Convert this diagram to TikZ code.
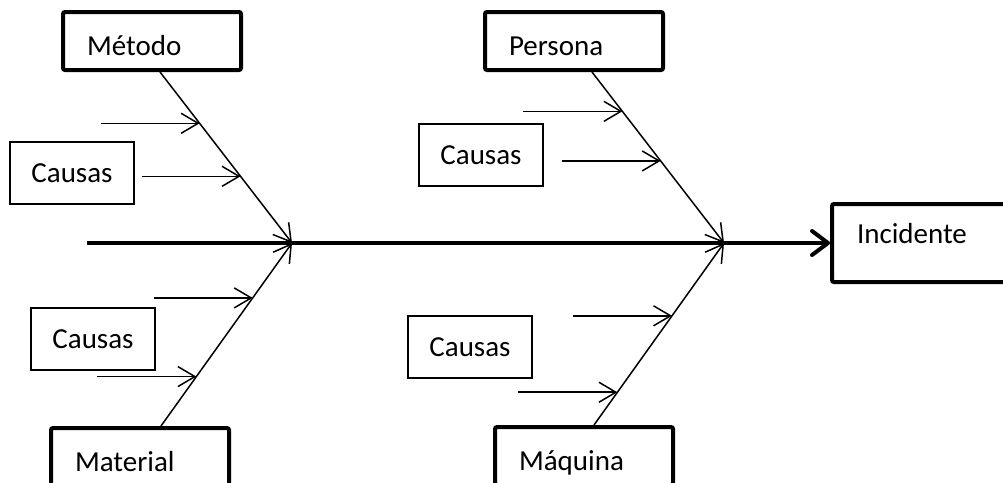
\documentclass[tikz,border=0pt]{standalone}
\usepackage{fontspec}
\setmainfont{Carlito}
\usetikzlibrary{arrows.meta, positioning, calc}

\begin{document}
\begin{tikzpicture}[
    x=1pt, y=-1pt,
    every node/.style={font=\fontsize{29}{34}\selectfont},
    catbox/.style={draw,line width=4pt,rounded corners=2pt,
      minimum height=58pt,text width=130pt,inner xsep=24pt,align=left,
      text height=30pt,text depth=2pt},
    causebox/.style={draw,line width=1.5pt,minimum width=124pt,minimum height=62pt},
    bone/.style={line width=1.5pt,-{Straight Barb[length=17pt,width=20pt]}},
    cause/.style={line width=1.5pt,-{Straight Barb[length=17pt,width=20pt]}},
    spine/.style={line width=4pt,-{Straight Barb[length=16pt,width=24pt,round]}}
  ]
  \useasboundingbox (0,0) rectangle (1003,482);

  % effect
  \node[catbox,minimum width=180pt,minimum height=78pt,text height=20pt,text depth=20pt] (incidente) at (922,243) {Incidente};
  \coordinate (tail) at (87,243);
  \coordinate (jL) at (292,243);
  \coordinate (jR) at (724,243);
  \draw[spine] (tail) -- (incidente.west);

  % Método
  \node[catbox] (metodo) at (152,41) {Método};
  \node[causebox] (causasA) at (72,173) {Causas};
  \draw[bone] ([xshift=8pt]metodo.south) -- coordinate[pos=.30] (m1) coordinate[pos=.61] (m2) (jL);
  \draw[cause] ([xshift=-99pt]m1) -- (m1);
  \draw[cause] ([xshift=-99pt]m2) -- (m2);

  % Persona
  \node[catbox] (persona) at (574,41) {Persona};
  \node[causebox] (causasB) at (481,155) {Causas};
  \draw[bone] ([xshift=18pt]persona.south) -- coordinate[pos=.23] (p1) coordinate[pos=.52] (p2) (jR);
  \draw[cause] ([xshift=-99pt]p1) -- (p1);
  \draw[cause] ([xshift=-99pt]p2) -- (p2);

  % Material
  \node[catbox] (material) at (140,457) {Material};
  \node[causebox] (causasC) at (93,339) {Causas};
  \draw[bone] ([xshift=21pt]material.north) -- coordinate[pos=.27] (a1) coordinate[pos=.70] (a2) (jL);
  \draw[cause] ([xshift=-99pt]a1) -- (a1);
  \draw[cause] ([xshift=-99pt]a2) -- (a2);

  % Máquina
  \node[catbox] (maquina) at (584,456) {Máquina};
  \node[causebox] (causasD) at (470,347) {Causas};
  \draw[bone] ([xshift=10pt]maquina.north) -- coordinate[pos=.18] (q1) coordinate[pos=.60] (q2) (jR);
  \draw[cause] ([xshift=-99pt]q1) -- (q1);
  \draw[cause] ([xshift=-99pt]q2) -- (q2);
\end{tikzpicture}
\end{document}
